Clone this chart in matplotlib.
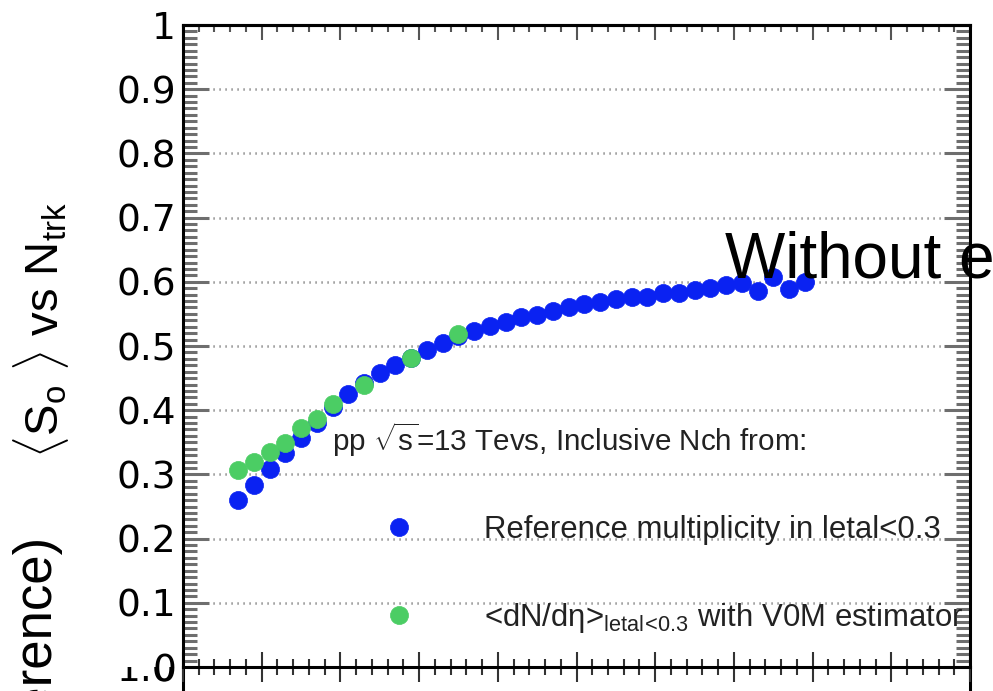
import matplotlib
matplotlib.use("Agg")
import matplotlib.pyplot as plt
from matplotlib.ticker import MultipleLocator
from matplotlib.transforms import ScaledTranslation
from matplotlib.patches import Rectangle
import numpy as np

plt.rcParams['font.family'] = ['Liberation Sans', 'DejaVu Sans']
plt.rcParams['mathtext.fontset'] = 'custom'
plt.rcParams['mathtext.rm'] = 'Liberation Sans'
plt.rcParams['mathtext.it'] = 'Liberation Sans:italic'
plt.rcParams['mathtext.bf'] = 'Liberation Sans:bold'

# <S_o> per N_trk bin, reference multiplicity in |eta|<0.3
ntrk_ref = np.arange(3.5, 40.0, 1.0)
so_ref = [0.260, 0.283, 0.308, 0.333, 0.357, 0.380, 0.405, 0.426, 0.442, 0.458,
          0.470, 0.482, 0.494, 0.505, 0.515, 0.523, 0.531, 0.537, 0.545, 0.549,
          0.555, 0.561, 0.565, 0.569, 0.573, 0.576, 0.577, 0.583, 0.583, 0.587,
          0.591, 0.595, 0.598, 0.585, 0.607, 0.589, 0.600]

# <S_o> vs <dN/deta> from the V0M estimator classes
ntrk_v0m = [3.5, 4.5, 5.5, 6.5, 7.5, 8.5, 9.5, 11.5, 14.5, 17.5]
so_v0m = [0.307, 0.319, 0.335, 0.349, 0.372, 0.386, 0.410, 0.439, 0.481, 0.519]

ytick_vals = np.round(np.arange(0, 1.01, 0.1), 1)
ytick_text = ['0', '0.1', '0.2', '0.3', '0.4', '0.5', '0.6', '0.7', '0.8', '0.9', '1']

blue = '#0a22f2'
green = '#4bcd64'
tickfont = dict(fontsize=27, family='DejaVu Sans')

W, H = 993, 691
fig = plt.figure(figsize=(W / 100, H / 100), dpi=100)


def fx(px):
    return px / W


def fy(py):
    return 1 - py / H


x0, x1, ytop, ybot = 183, 970, 25, 667

# lower pad (only its frame edge shows below the main pad)
low = fig.add_axes([fx(x0), -0.3, fx(x1) - fx(x0), fy(ybot) + 0.3], zorder=-1)
low.set_xlim(0, 50)
low.set_ylim(0, 1)
low.set_xticks([])
low.set_yticks([])
for s in ['top', 'bottom']:
    low.spines[s].set_visible(False)
for s in ['left', 'right']:
    low.spines[s].set_linewidth(2.2)

ax = fig.add_axes([fx(x0), fy(ybot), fx(x1) - fx(x0), fy(ytop) - fy(ybot)])
ax.set_xlim(0, 50)
ax.set_ylim(0, 1)
ax.set_axisbelow(True)

h_ref, = ax.plot(ntrk_ref, so_ref, 'o', color=blue, ms=13, mec=blue, mew=0.5, zorder=3,
                 label='Reference multiplicity in letal<0.3')
h_v0m, = ax.plot(ntrk_v0m, so_v0m, 'o', color=green, ms=13, mec=green, mew=0.5, zorder=4,
                 label=r'<dN/dη>$_{\mathregular{letal\!<\!0.3}}$ with V0M estimator')

for s in ax.spines.values():
    s.set_linewidth(2.2)

ax.set_yticks(ytick_vals, ytick_text, **tickfont)
ax.yaxis.set_minor_locator(MultipleLocator(0.01))
ax.tick_params(axis='y', which='both', direction='in', left=True, right=True,
               color='#6e6e6e', width=2.2, pad=5)
ax.tick_params(axis='y', which='major', length=18.7)
ax.tick_params(axis='y', which='minor', length=10)

ax.xaxis.set_major_locator(MultipleLocator(5))
ax.xaxis.set_minor_locator(MultipleLocator(1))
ax.tick_params(axis='x', which='both', direction='inout', bottom=True, top=False,
               labelbottom=False, color='#333333', width=1.5)
ax.tick_params(axis='x', which='major', length=21.6)
ax.tick_params(axis='x', which='minor', length=12)

top = ax.secondary_xaxis('top')
top.xaxis.set_major_locator(MultipleLocator(5))
top.xaxis.set_minor_locator(MultipleLocator(1))
top.tick_params(which='both', direction='in', labeltop=False, color='#555555', width=1.5)
top.tick_params(which='major', length=10.8)
top.tick_params(which='minor', length=5)
top.spines['top'].set_linewidth(2.2)

ax.grid(axis='y', which='major', color='#6f6f6f', linestyle=(0, (0.45, 1.95)), linewidth=1.8)

leg = ax.legend(handles=[h_ref, h_v0m],
                title=r'pp $\sqrt{\mathregular{s}}$=13 Tevs, Inclusive Nch from:',
                loc='upper left', bbox_to_anchor=(fx(332), fy(420)),
                bbox_transform=fig.transFigure, frameon=False, fontsize=22.4,
                title_fontsize=21.3, alignment='left', numpoints=1,
                handlelength=4.3, handletextpad=0.6, labelspacing=1.8,
                borderpad=0, borderaxespad=0)
for t in leg.get_texts():
    t.set_color('#222222')
leg.get_title().set_color('#222222')

# axis titles
fig.text(fx(41), fy(330), r'$\langle$S$_{\mathregular{o}}$ $\rangle$ vs N$_{\mathregular{trk}}$',
         rotation=90, ha='center', va='center', fontsize=34)
fig.text(fx(38), fy(537), 'Ratio (Estimator / Reference)',
         rotation=90, ha='center', va='top', fontsize=38)

# lower-pad label; the upper pad hides its top half
off = ScaledTranslation(-5 / 72, 0, fig.dpi_scale_trans)
fig.text(0, 0, '1.0', transform=ax.transAxes + off, ha='right',
         va='center_baseline', zorder=-3, **tickfont)
fig.add_artist(Rectangle((fx(95), fy(ybot)), fx(180) - fx(95), fy(635) - fy(ybot),
                         transform=fig.transFigure, facecolor='white',
                         edgecolor='none', zorder=-2))

fig.text(fx(725), fy(277), 'Without errors', fontsize=46, ha='left', va='baseline',
         color='black')

fig.savefig('out.png', dpi=100)
